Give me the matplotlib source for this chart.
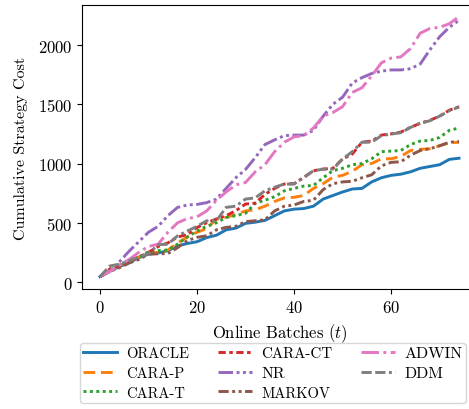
import matplotlib
matplotlib.use("Agg")
import matplotlib.pyplot as plt
import numpy as np

plt.rcParams.update({
    'font.family': 'serif',
    'font.serif': ['cmr10', 'DejaVu Serif'],
    'mathtext.fontset': 'cm',
    'axes.unicode_minus': False,
    'axes.formatter.use_mathtext': True,
    'font.size': 12,
})

# ---- data (every 2nd batch) ----
batches = np.arange(0, 75, 2)

oracle = [45, 90, 130, 165, 205, 235, 245, 265, 305, 325, 340, 375, 395, 440, 455, 495, 505, 520, 560,
          600, 615, 620, 640, 700, 730, 760, 785, 790, 845, 880, 900, 910, 930, 960, 975, 990, 1035, 1045]
cara_p = [45, 95, 140, 170, 210, 245, 250, 270, 330, 380, 420, 450, 530, 545, 570, 600, 610, 640, 680,
          710, 715, 730, 790, 830, 885, 900, 935, 990, 1000, 1040, 1040, 1060, 1110, 1120, 1125, 1150, 1175, 1180]
cara_t = [45, 100, 140, 165, 210, 255, 265, 270, 320, 380, 430, 470, 500, 545, 560, 580, 665, 690, 720,
          770, 790, 810, 815, 880, 940, 960, 990, 1000, 1040, 1100, 1105, 1110, 1160, 1190, 1195, 1220, 1280, 1300]
cara_ct = [45, 110, 140, 170, 210, 250, 300, 330, 380, 400, 460, 500, 532, 560, 602, 658, 665, 740, 790,
           827, 830, 883, 939, 953, 960, 1038, 1080, 1180, 1190, 1240, 1250, 1265, 1305, 1340, 1365, 1400, 1450, 1480]
nr = [45, 90, 170, 260, 340, 420, 470, 560, 630, 650, 655, 670, 700, 790, 880, 950, 1050, 1160, 1200,
      1235, 1240, 1240, 1280, 1400, 1500, 1560, 1680, 1725, 1760, 1780, 1790, 1790, 1800, 1840, 1960, 2070, 2150, 2210]
markov = [45, 90, 120, 160, 190, 235, 238, 240, 290, 350, 377, 390, 440, 461, 470, 510, 517, 525, 600,
          640, 650, 680, 690, 780, 830, 845, 850, 880, 905, 980, 1010, 1015, 1070, 1110, 1125, 1150, 1180, 1185]
adwin = [45, 90, 140, 190, 250, 300, 320, 420, 500, 535, 550, 600, 690, 760, 820, 840, 930, 990, 1100,
         1180, 1225, 1235, 1300, 1400, 1430, 1480, 1600, 1640, 1740, 1850, 1890, 1900, 1970, 2100, 2140, 2150, 2180, 2240]
ddm = [45, 135, 150, 180, 210, 240, 315, 320, 390, 430, 470, 517, 517, 630, 640, 700, 710, 770, 800,
       827, 827, 883, 939, 953, 953, 1038, 1100, 1180, 1180, 1235, 1249, 1260, 1305, 1340, 1361, 1400, 1446, 1477]

labels = ["ORACLE", "CARA-P", "CARA-T", "CARA-CT", "NR", "MARKOV", "ADWIN", "DDM"]
label_sizes = [10.5, 10.5, 10.5, 10.8, 11.5, 10.5, 11.5, 11.5]
series = [oracle, cara_p, cara_t, cara_ct, nr, markov, adwin, ddm]
styles = ['-', (0, (4, 2)), (0, (1, 1.2)), (0, (2.5, 1.2, 1.2, 1.2)), (0, (5, 1.2, 1, 1.2, 1, 1.2)),
          (0, (3.5, 1.2, 1, 1.2, 1, 1.2)), (0, (6, 1.5, 1, 1.5)), (0, (3.5, 1.2, 3.5, 1.2, 1, 1.2))]
colors = ['C0', 'C1', 'C2', 'C3', 'C4', 'C5', 'C6', 'C7']

fig = plt.figure(figsize=(4.69, 4.10), dpi=100)
ax = fig.add_axes([82 / 469, 1 - 290 / 410, (477 - 82) / 469, (290 - 6) / 410])

for y, lab, ls, c in zip(series, labels, styles, colors):
    ax.plot(batches, y, linestyle=ls, color=c, lw=2.1, label=lab,
            solid_joinstyle='round', dash_joinstyle='round')

ax.set_xlim(-3.7, 77.7)
ax.set_ylim(-59, 2338)
ax.set_xticks([0, 20, 40, 60])
ax.set_yticks([0, 500, 1000, 1500, 2000])
ax.set_xlabel(r'Online Batches ($t$)', fontsize=12, labelpad=5)
ax.set_ylabel('Cumulative Strategy Cost', fontsize=11.5, labelpad=7)
ax.tick_params(labelsize=12)

leg = fig.legend(loc='upper left', bbox_to_anchor=(80 / 469, 1 - 344 / 410), ncol=3, fontsize=11.5,
                 handlelength=2.1, handletextpad=0.6, columnspacing=1.8, labelspacing=0.35,
                 borderaxespad=0.0, borderpad=0.2, frameon=True, fancybox=True)
for txt, size in zip(leg.get_texts(), label_sizes):
    txt.set_fontsize(size)

fig.savefig("out.png", dpi=100)
